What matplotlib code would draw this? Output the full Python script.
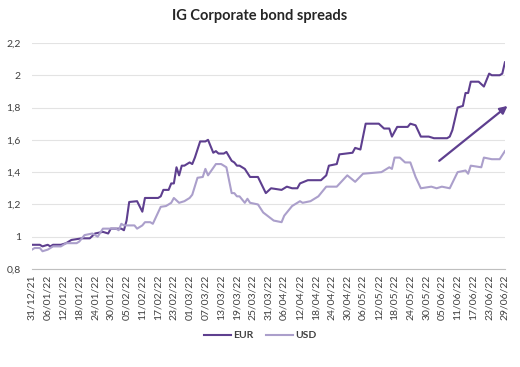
import matplotlib.pyplot as plt
import matplotlib.ticker as mticker
import pandas as pd

plt.rcParams.update({'font.family': ['Lato', 'DejaVu Sans']})

start = pd.Timestamp('2021-12-31')

# days since 31/12/21
eur_days = [0, 3, 4, 6, 7, 8, 11, 13, 15, 19, 22, 24, 27, 29, 30, 34, 35, 36, 37, 40,
            42, 43, 48, 49, 50, 52, 53, 54, 55, 56, 57, 58, 60, 61, 62, 63, 64, 66, 67,
            69, 70, 71, 73, 74, 76, 77, 78, 79, 81, 83, 86, 89, 91, 95, 97, 99, 101,
            102, 105, 110, 112, 113, 116, 117, 122, 123, 125, 127, 132, 134, 136, 137,
            139, 143, 144, 146, 148, 151, 153, 158, 159, 160, 162, 164, 165, 166, 167,
            170, 172, 174, 175, 178, 179, 180]
eur = [0.95, 0.95, 0.94, 0.95, 0.94, 0.95, 0.95, 0.96, 0.98, 0.99, 0.99, 1.02, 1.03,
       1.02, 1.05, 1.05, 1.04, 1.10, 1.215, 1.22, 1.155, 1.24, 1.24, 1.25, 1.29, 1.29,
       1.33, 1.33, 1.43, 1.38, 1.44, 1.44, 1.46, 1.45, 1.49, 1.54, 1.59, 1.59, 1.60,
       1.52, 1.53, 1.515, 1.515, 1.525, 1.47, 1.46, 1.44, 1.44, 1.42, 1.37, 1.37, 1.27,
       1.30, 1.29, 1.31, 1.30, 1.30, 1.33, 1.35, 1.35, 1.38, 1.44, 1.45, 1.51, 1.52,
       1.55, 1.54, 1.70, 1.70, 1.67, 1.67, 1.62, 1.68, 1.68, 1.70, 1.69, 1.62, 1.62,
       1.61, 1.61, 1.62, 1.66, 1.80, 1.81, 1.89, 1.89, 1.96, 1.96, 1.93, 2.01, 2.00,
       2.00, 2.01, 2.08]

usd_days = [0, 1, 3, 4, 6, 7, 8, 11, 13, 17, 18, 20, 23, 25, 27, 32, 33, 34, 35, 39,
            40, 42, 43, 45, 46, 48, 49, 51, 53, 54, 56, 58, 60, 61, 63, 65, 66, 67, 70,
            72, 74, 76, 77, 78, 79, 81, 82, 83, 86, 88, 92, 95, 96, 99, 102, 103, 106,
            109, 112, 116, 120, 123, 126, 133, 136, 137, 138, 140, 142, 144, 146, 148,
            152, 154, 156, 159, 162, 165, 166, 167, 171, 172, 175, 178, 180]
usd = [0.92, 0.93, 0.93, 0.91, 0.92, 0.93, 0.94, 0.94, 0.96, 0.96, 0.97, 1.01, 1.02,
       1.00, 1.05, 1.05, 1.04, 1.08, 1.07, 1.07, 1.05, 1.07, 1.09, 1.09, 1.08, 1.15,
       1.185, 1.19, 1.21, 1.24, 1.21, 1.22, 1.24, 1.26, 1.365, 1.37, 1.42, 1.38, 1.45,
       1.45, 1.43, 1.27, 1.27, 1.25, 1.25, 1.21, 1.235, 1.21, 1.20, 1.15, 1.10, 1.09,
       1.13, 1.19, 1.22, 1.21, 1.22, 1.25, 1.31, 1.31, 1.38, 1.34, 1.39, 1.40, 1.43,
       1.42, 1.49, 1.49, 1.46, 1.46, 1.37, 1.30, 1.31, 1.30, 1.31, 1.30, 1.40, 1.41,
       1.39, 1.44, 1.43, 1.49, 1.48, 1.48, 1.53]

tick_days = list(range(0, 181, 6))
tick_labels = [(start + pd.Timedelta(days=d)).strftime('%d/%m/%y') for d in tick_days]

eur_col = '#5e3f8f'
usd_col = '#ab9fcb'

fig = plt.figure(figsize=(5.2, 3.67), dpi=100)
ax = fig.add_axes([0.0615, 0.267, 0.9095, 0.616])

ax.plot(eur_days, eur, color=eur_col, lw=1.5, label='EUR')
ax.plot(usd_days, usd, color=usd_col, lw=1.5, label='USD')

# trend arrow
ax.annotate('', xy=(181, 1.81), xytext=(155, 1.47), annotation_clip=False,
            arrowprops=dict(arrowstyle='-|>', color=eur_col, lw=1.6,
                            mutation_scale=11, shrinkA=0, shrinkB=0))

ax.set_xlim(0, 180)
ax.set_ylim(0.8, 2.2)
ax.set_yticks([0.8, 1.0, 1.2, 1.4, 1.6, 1.8, 2.0, 2.2])
ax.yaxis.set_major_formatter(mticker.FuncFormatter(
    lambda v, p: ('%g' % round(v, 1)).replace('.', ',')))
ax.set_xticks(tick_days)
ax.set_xticklabels(tick_labels, rotation=90)
ax.tick_params(axis='both', length=0, labelsize=7.5, colors='#404040')
ax.tick_params(axis='x', pad=4)
ax.tick_params(axis='y', pad=8)
ax.grid(axis='y', color='#e3e3e3', lw=0.8)
ax.set_axisbelow(True)
for s in ['top', 'right', 'left']:
    ax.spines[s].set_visible(False)
ax.spines['bottom'].set_color('#bfbfbf')

fig.suptitle('IG Corporate bond spreads', y=0.975, fontsize=10.5,
             fontweight='bold', color='#262626')

leg = fig.legend(loc='center', bbox_to_anchor=(0.5, 0.085), ncol=2, frameon=False,
                 fontsize=7.5, handlelength=2.6, columnspacing=1.2, handletextpad=0.2)
for t in leg.get_texts():
    t.set_fontweight('bold')
    t.set_color('#404040')

fig.savefig('out.png', dpi=100)
